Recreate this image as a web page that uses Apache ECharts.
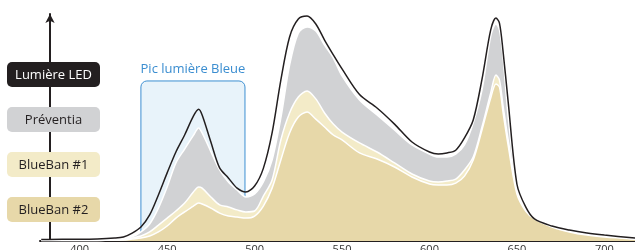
<!DOCTYPE html>
<html>
<head>
<meta charset="utf-8">
<script src="https://cdn.jsdelivr.net/npm/echarts@6/dist/echarts.min.js"></script>
<style>
  html, body { margin: 0; padding: 0; background: #fff; }
  #chart { width: 635px; height: 250px; }
</style>
</head>
<body>
<div id="chart"></div>
<script>
// spectrum, wavelength in nm, relative intensity 0..100
const wavelengths = [378, 390, 400, 410, 420, 425, 430, 435, 440, 445, 450, 455, 460, 465, 468, 470, 475, 480, 485, 490, 495, 500, 505, 510, 515, 520, 525, 530, 535, 540, 545, 550, 560, 570, 580, 590, 600, 605, 610, 615, 620, 625, 630, 635, 638, 640, 642, 645, 650, 655, 660, 670, 680, 690, 700, 718]
const lumiereLed = [0.7, 0.8, 0.8, 0.9, 1.3, 1.8, 3.5, 6.2, 11.5, 20.3, 30, 39.2, 46.7, 55, 58, 55.5, 43.6, 32.2, 27.8, 23.3, 21.6, 24.2, 32, 47.6, 70.9, 89.9, 97.8, 99.1, 95.6, 88.5, 82, 75.8, 64.5, 58.6, 51.5, 43.6, 39.2, 38.3, 38.8, 40, 45.4, 53.3, 71.2, 93, 98.2, 96, 84, 61.2, 25, 15, 9.7, 6.6, 4.8, 3.5, 2.6, 1.3]
const preventia = [0.4, 0.4, 0.4, 0.5, 0.9, 1.1, 1.8, 4, 7.5, 14.5, 23.8, 34.4, 40.5, 46.5, 49.8, 47.6, 39.4, 31.3, 26, 22.5, 19.4, 20.7, 26, 35.7, 54.2, 77.5, 91.6, 94.3, 92.5, 86.3, 80.6, 72.7, 62.1, 55.5, 48.9, 42.3, 38.3, 37, 37, 38.3, 42.3, 52, 66.5, 90.3, 95.6, 93, 81.5, 54.6, 23.3, 13.7, 10.1, 6.6, 4.4, 3.1, 2.2, 0.9]
const blueBan1 = [0.2, 0.2, 0.2, 0.2, 0.4, 0.7, 1.3, 2.2, 4, 7, 10.1, 13.2, 16.7, 21.6, 23.8, 23.3, 19.4, 15.9, 15, 13.7, 12.8, 13.2, 19.8, 26.9, 44.5, 56.4, 63.4, 66.1, 62.6, 56.4, 51.5, 48, 43.2, 39.2, 34.4, 29.5, 26.4, 26, 26.4, 27.3, 31.3, 37, 50.2, 65.2, 73.1, 70.9, 59.9, 44.5, 22.5, 14.5, 10.6, 6.6, 4.4, 3.1, 2.2, 0.9]
const blueBan2 = [0.2, 0.2, 0.2, 0.2, 0.4, 0.4, 0.9, 1.3, 2.2, 4, 6.6, 10.1, 12.8, 15.4, 16.7, 16.3, 14.5, 12.3, 11, 10.6, 10.1, 11, 15.4, 23.3, 35.7, 47.6, 54.6, 56.8, 53.7, 50.2, 46.7, 44.5, 38.8, 36.1, 32.6, 28.2, 25.1, 24.7, 24.7, 25.5, 28.6, 35.7, 48.9, 63, 69.2, 67.8, 57, 42, 20.7, 13.2, 9.7, 6.2, 4, 2.6, 1.8, 0.9]

const seriesNames = ['Lumière LED', 'Préventia', 'BlueBan #1', 'BlueBan #2']
const tickLabels = [400, 450, 500, 550, 600, 650, 700]
const blueBand = [435, 494.5]   // "Pic lumière Bleue" range
const blueBandTop = 70.5

const colors = {
  led: '#231f20',
  preventia: '#d1d2d4',
  blueBan1: '#f3ebc8',
  blueBan2: '#e7d8a9'
}
const font = '"Open Sans", sans-serif'

const pairs = arr => wavelengths.map((w, i) => [w, arr[i]])

function areaSeries(name, values, color) {
  return {
    name: name,
    type: 'line',
    data: pairs(values),
    smooth: 0.3,
    showSymbol: false,
    lineStyle: { color: '#fff', width: 1.5 },
    areaStyle: { color: color, opacity: 1 },
    silent: true
  }
}

const chart = echarts.init(document.getElementById('chart'))
chart.setOption({
  animation: false,
  grid: { left: 40, right: 0, top: 14, bottom: 9, containLabel: false, outerBoundsMode: 'none' },
  xAxis: {
    type: 'value',
    min: 377.3,
    max: 717.5,
    axisLine: { lineStyle: { color: '#231f20', width: 2 } },
    axisTick: { show: false },
    splitLine: { show: false },
    axisLabel: {
      customValues: tickLabels,
      color: '#333',
      fontSize: 11,
      fontFamily: font,
      margin: 3
    }
  },
  yAxis: {
    type: 'value',
    min: 0,
    max: 100,
    offset: -10,
    axisLine: {
      show: true,
      symbol: ['none', 'arrow'],
      symbolSize: [7, 9],
      lineStyle: { color: '#231f20', width: 2 }
    },
    axisTick: { show: false },
    axisLabel: { show: false },
    splitLine: { show: false }
  },
  series: [
    areaSeries(seriesNames[1], preventia, colors.preventia),
    areaSeries(seriesNames[2], blueBan1, colors.blueBan1),
    areaSeries(seriesNames[3], blueBan2, colors.blueBan2),
    {
      name: seriesNames[0],
      type: 'line',
      data: pairs(lumiereLed),
      smooth: 0.3,
      showSymbol: false,
      lineStyle: { color: colors.led, width: 1.5 },
      silent: true
    }
  ]
})

// highlighted band + label boxes
const p0 = chart.convertToPixel({ gridIndex: 0 }, [blueBand[0], blueBandTop])
const p1 = chart.convertToPixel({ gridIndex: 0 }, [blueBand[1], 0])

const boxFills = [colors.led, colors.preventia, colors.blueBan1, colors.blueBan2]
const graphics = [
  {
    type: 'rect',
    z: 0,
    shape: { x: p0[0], y: p0[1], width: p1[0] - p0[0], height: p1[1] - p0[1], r: [6, 6, 0, 0] },
    style: { fill: '#e8f3fa', stroke: '#3d8fd1', lineWidth: 1 }
  },
  {
    type: 'text',
    z: 0,
    x: (p0[0] + p1[0]) / 2,
    y: p0[1] - 12,
    style: {
      text: 'Pic lumière Bleue',
      fill: '#3a8dd0',
      font: '13px ' + font,
      textAlign: 'center',
      textVerticalAlign: 'middle'
    }
  }
]
seriesNames.forEach((name, i) => {
  graphics.push({
    type: 'rect',
    z: 10,
    shape: { x: 7, y: 62 + 45 * i, width: 93, height: 25, r: 5 },
    style: { fill: boxFills[i] }
  })
  graphics.push({
    type: 'text',
    z: 11,
    x: 53.5,
    y: 75 + 45 * i,
    style: {
      text: name,
      fill: i === 0 ? '#fff' : '#231f20',
      font: '13px ' + font,
      textAlign: 'center',
      textVerticalAlign: 'middle'
    }
  })
})
chart.setOption({ graphic: graphics })
</script>
</body>
</html>
